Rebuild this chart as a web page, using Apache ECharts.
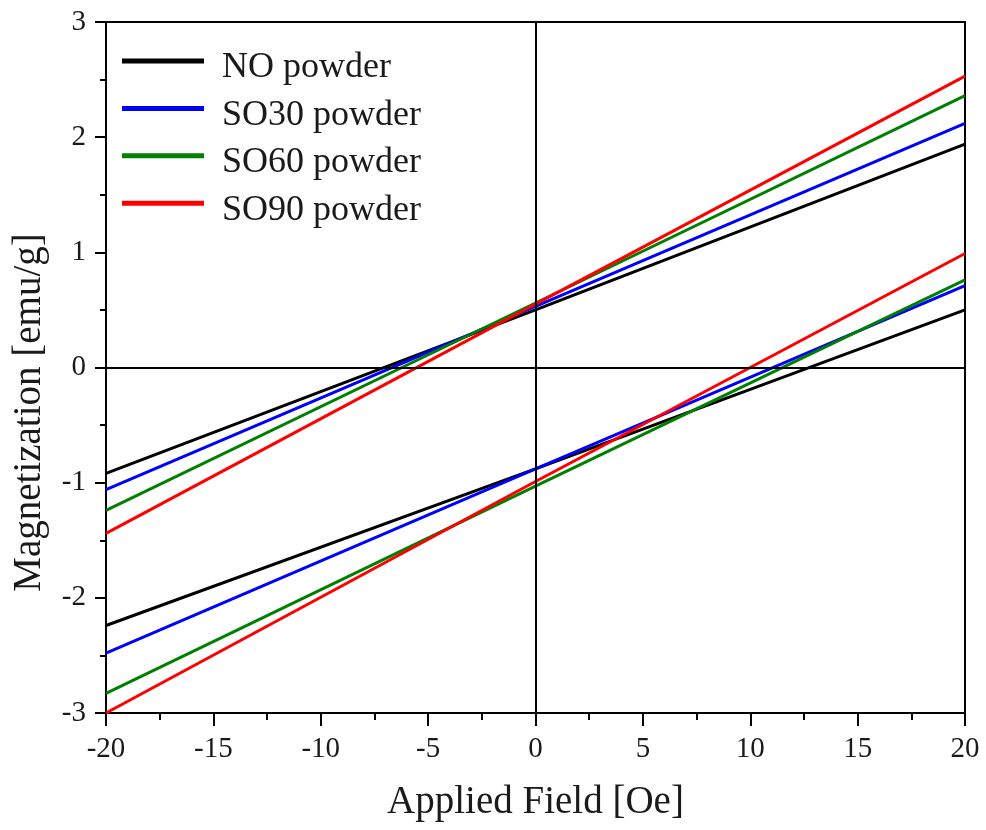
<!DOCTYPE html>
<html>
<head>
<meta charset="utf-8">
<title>Magnetization vs Applied Field</title>
<script src="https://cdn.jsdelivr.net/npm/echarts@6/dist/echarts.min.js"></script>
<style>
  html, body { margin: 0; padding: 0; background: #fff; }
  #chart { width: 986px; height: 830px; }
</style>
</head>
<body>
<div id="chart"></div>
<script>
// Applied field sample points [Oe]
const fields = [-20, 0, 20];

// Magnetization [emu/g], upper and lower branches of each loop
const noUpper   = [-0.92, 0.50, 1.94];
const noLower   = [-2.24, -0.88, 0.50];
const so30Upper = [-1.06, 0.53, 2.12];
const so30Lower = [-2.48, -0.88, 0.71];
const so60Upper = [-1.24, 0.56, 2.36];
const so60Lower = [-2.83, -1.03, 0.76];
const so90Upper = [-1.44, 0.55, 2.53];
const so90Lower = [-3.00, -0.99, 0.99];

const sampleNames = ['NO powder', 'SO30 powder', 'SO60 powder', 'SO90 powder'];
const sampleColors = ['#000000', '#0000ff', '#008000', '#ff0000'];
const branches = [
  [noUpper, noLower],
  [so30Upper, so30Lower],
  [so60Upper, so60Lower],
  [so90Upper, so90Lower]
];

const FONT = '"Liberation Serif", "Times New Roman", serif';
const TEXT = '#1a1a1a';

// legend swatch: a bar sitting at the top of a taller (empty) box,
// so the bar rides a little above the middle of the label
const SWATCH = 'path://M0,0L82,0L82,5L0,5Z M0,19L82,19Z';

function pairs(ys) {
  return fields.map((x, i) => [x, ys[i]]);
}

const series = [];
branches.forEach((br, k) => {
  br.forEach((ys) => {
    series.push({
      name: sampleNames[k],
      type: 'line',
      data: pairs(ys),
      showSymbol: false,
      symbol: 'none',
      color: sampleColors[k],
      lineStyle: { width: 3, color: sampleColors[k] },
      animation: false,
      z: 3
    });
  });
});

// zero reference lines
series[0].markLine = {
  silent: true,
  symbol: 'none',
  animation: false,
  label: { show: false },
  lineStyle: { color: '#000', width: 2, type: 'solid' },
  emphasis: { disabled: true },
  data: [{ xAxis: 0 }, { yAxis: 0 }]
};

const chart = echarts.init(document.getElementById('chart'), null, { renderer: 'canvas' });
chart.setOption({
  backgroundColor: '#ffffff',
  animation: false,
  grid: {
    left: 106, right: 21, top: 22, bottom: 117,
    show: true, borderColor: '#000', borderWidth: 2, backgroundColor: 'transparent'
  },
  legend: {
    data: sampleNames,
    orient: 'vertical',
    left: 122,
    top: 50,
    padding: 0,
    itemGap: 11.4,
    itemWidth: 82,
    itemHeight: 19,
    icon: SWATCH,
    itemStyle: { borderWidth: 0 },
    selectedMode: false,
    textStyle: {
      fontFamily: FONT, fontSize: 36, color: TEXT,
      lineHeight: 19, padding: [0, 0, 0, 13]
    }
  },
  xAxis: {
    type: 'value',
    min: -20, max: 20, interval: 5,
    name: 'Applied Field [Oe]',
    nameLocation: 'middle',
    nameGap: 70,
    nameTextStyle: { fontFamily: FONT, fontSize: 39, color: TEXT },
    axisLine: { show: true, onZero: false, lineStyle: { color: '#000', width: 2 } },
    axisTick: { show: true, length: 13, lineStyle: { color: '#000', width: 2 } },
    minorTick: { show: true, splitNumber: 2, length: 7, lineStyle: { color: '#000', width: 2 } },
    axisLabel: { fontFamily: FONT, fontSize: 29, color: TEXT, margin: 22 },
    splitLine: { show: false }
  },
  yAxis: {
    type: 'value',
    min: -3, max: 3, interval: 1,
    name: 'Magnetization [emu/g]',
    nameLocation: 'middle',
    nameGap: 57,
    nameTextStyle: { fontFamily: FONT, fontSize: 39, color: TEXT, padding: [0, 90, 0, 0] },
    axisLine: { show: true, onZero: false, lineStyle: { color: '#000', width: 2 } },
    axisTick: { show: true, length: 11, lineStyle: { color: '#000', width: 2 } },
    minorTick: { show: true, splitNumber: 2, length: 6, lineStyle: { color: '#000', width: 2 } },
    axisLabel: { fontFamily: FONT, fontSize: 29, color: TEXT, margin: 20 },
    splitLine: { show: false }
  },
  series: series
});
</script>
</body>
</html>
